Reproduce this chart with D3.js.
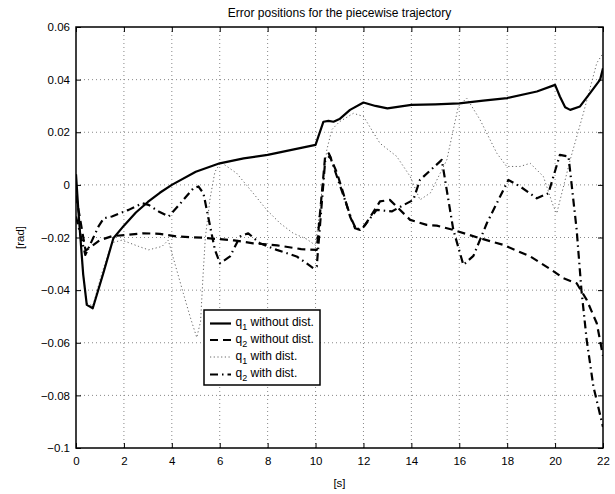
<!DOCTYPE html>
<html><head><meta charset="utf-8">
<script src="https://cdn.jsdelivr.net/npm/d3@7"></script>
<style>body{margin:0;background:#fff}svg{display:block;font-family:"Liberation Sans",Arial,sans-serif}</style>
</head><body>
<svg id="c" width="615" height="494"></svg>
<script>
const title = "Error positions for the piecewise trajectory";
const xTicks = [0,2,4,6,8,10,12,14,16,18,20,22];
const yTicks = [0.06,0.04,0.02,0,-0.02,-0.04,-0.06,-0.08,-0.1];
const yTickLabels = ["0.06","0.04","0.02","0","\u22120.02","\u22120.04","\u22120.06","\u22120.08","\u22120.1"];

const q1NoDistT = [0,0.1,0.3,0.45,0.7,1.14,1.56,2.0,2.5,3.0,3.5,4.0,5.0,6.0,7.0,8.0,9.0,10.0,10.12,10.33,10.54,10.75,11.0,11.44,12.0,12.5,13.0,14.0,15.0,16.0,17.0,18.0,19.24,20.0,20.2,20.42,20.63,21.04,21.46,21.88,22.0];
const q1NoDistV = [0.004,-0.01,-0.034,-0.0456,-0.0469,-0.0336,-0.0203,-0.0155,-0.0105,-0.0065,-0.003,0.0,0.005,0.0082,0.0101,0.0114,0.0133,0.0152,0.0184,0.024,0.0243,0.024,0.025,0.0285,0.0313,0.0300,0.0291,0.0304,0.0306,0.031,0.032,0.033,0.0355,0.038,0.0336,0.0295,0.0285,0.0298,0.0349,0.040,0.0443];

const q2NoDistT = [0,0.4,1.0,1.5,2.1,2.8,3.5,4.2,5.3,6.6,7.4,8.4,9.4,10.05,10.4,10.55,10.9,11.16,11.44,11.65,11.86,12.07,12.69,13.1,13.95,14.64,15.06,15.75,16.87,17.84,18.96,19.8,20.35,20.9,21.32,21.74,22.0];
const q2NoDistV = [-0.004,-0.025,-0.021,-0.0195,-0.019,-0.0184,-0.0186,-0.0196,-0.0201,-0.0211,-0.0222,-0.023,-0.0244,-0.0247,0.0108,0.012,0.0044,-0.0032,-0.012,-0.0165,-0.0171,-0.0152,-0.0063,-0.0057,-0.0133,-0.0152,-0.0155,-0.0171,-0.0203,-0.0228,-0.0272,-0.032,-0.0355,-0.0374,-0.0437,-0.0526,-0.065];

const q1DistT = [0,0.1,0.3,0.45,0.7,1.1,1.5,1.92,2.62,3.03,3.59,3.85,4.13,4.48,4.76,5.04,5.2,5.3,5.4,5.6,5.8,6.05,6.71,7.4,7.96,8.52,9.07,9.63,10.0,10.47,10.68,11.0,11.58,12.0,12.69,13.39,13.95,14.36,14.8,15.48,15.96,16.31,16.87,17.57,17.98,18.54,18.96,19.51,19.93,20.07,20.63,21.18,21.74,22.0];
const q1DistV = [0.004,-0.01,-0.034,-0.045,-0.046,-0.033,-0.022,-0.021,-0.0234,-0.0247,-0.0234,-0.021,-0.030,-0.0412,-0.05,-0.058,-0.052,-0.035,-0.02,-0.005,0.005,0.0086,0.0044,-0.0032,-0.0095,-0.0146,-0.0184,-0.0206,-0.023,0.0133,0.021,0.024,0.0272,0.026,0.0158,0.0108,0.0032,-0.0057,-0.003,0.0095,0.0298,0.033,0.0247,0.012,0.007,0.007,0.0082,0.0032,-0.0082,-0.0108,0.0095,0.0272,0.0463,0.05];

const q2DistT = [0,0.39,0.94,1.16,1.5,2.2,2.76,3.03,3.45,3.87,4.36,4.9,5.11,5.32,5.6,5.8,6.01,6.43,6.85,7.19,7.68,8.38,9.21,9.63,9.91,10.05,10.4,10.6,10.9,11.2,11.5,11.7,12.0,12.55,13.18,14.08,14.36,15.27,15.75,16.17,16.59,17.15,18.05,18.54,19.24,19.72,20.2,20.56,20.9,21.1,21.32,21.6,22.0];
const q2DistV = [-0.012,-0.0266,-0.0158,-0.0127,-0.012,-0.0095,-0.007,-0.0076,-0.0101,-0.012,-0.007,-0.0013,-0.0006,-0.0032,-0.0158,-0.0247,-0.0298,-0.0272,-0.0196,-0.0184,-0.0222,-0.0247,-0.0272,-0.0298,-0.0317,-0.031,0.009,0.011,0.003,-0.005,-0.013,-0.017,-0.016,-0.0095,-0.0101,-0.0057,0.0019,0.0095,-0.017,-0.0304,-0.027,-0.0146,0.0019,-0.0006,-0.0051,-0.0032,0.0114,0.0108,-0.017,-0.04,-0.059,-0.0767,-0.092];

const seriesNames = ["without dist.","without dist.","with dist.","with dist."];
const seriesSubs = ["1","2","1","2"];

const W=615,H=494;
const m={l:76,r:12,t:27,b:46};
const svg=d3.select("#c");
const x=d3.scaleLinear().domain([0,22]).range([m.l,W-m.r]);
const y=d3.scaleLinear().domain([-0.1,0.06]).range([H-m.b,m.t]);

const styles=[
  {stroke:"#000",w:2.2,dash:null},
  {stroke:"#000",w:2.2,dash:"8,5"},
  {stroke:"#666",w:1,dash:"1.2,2.5"},
  {stroke:"#000",w:2.2,dash:"8,4,1.5,4"}
];

// grid
const g=svg.append("g");
g.selectAll(".gx").data(xTicks.slice(1,-1)).enter().append("line")
 .attr("x1",d=>x(d)).attr("x2",d=>x(d)).attr("y1",y(0.06)).attr("y2",y(-0.1))
 .attr("stroke","#888").attr("stroke-width",1).attr("stroke-dasharray","1,3");
g.selectAll(".gy").data(yTicks.slice(1,-1)).enter().append("line")
 .attr("y1",d=>y(d)).attr("y2",d=>y(d)).attr("x1",x(0)).attr("x2",x(22))
 .attr("stroke","#888").attr("stroke-width",1).attr("stroke-dasharray","1,3");

svg.append("clipPath").attr("id","cp").append("rect")
 .attr("x",x(0)).attr("y",y(0.06)).attr("width",x(22)-x(0)).attr("height",y(-0.1)-y(0.06));

const line=d3.line().x(d=>x(d[0])).y(d=>y(d[1]));
const series=[[q1NoDistT,q1NoDistV],[q2NoDistT,q2NoDistV],[q1DistT,q1DistV],[q2DistT,q2DistV]];
const order=[2,0,1,3];
const pg=svg.append("g").attr("clip-path","url(#cp)");
order.forEach(i=>{
  const [T,V]=series[i];
  const pts=T.map((t,k)=>[t,V[k]]);
  const p=pg.append("path").datum(pts).attr("d",line).attr("fill","none")
   .attr("stroke",styles[i].stroke).attr("stroke-width",styles[i].w).attr("stroke-linejoin","round");
  if(styles[i].dash) p.attr("stroke-dasharray",styles[i].dash);
});

// axes box
svg.append("rect").attr("x",x(0)).attr("y",y(0.06)).attr("width",x(22)-x(0)).attr("height",y(-0.1)-y(0.06))
 .attr("fill","none").attr("stroke","#000").attr("stroke-width",1.5);

// axes with inward ticks
const xa=d3.axisBottom(x).tickValues(xTicks).tickSize(-5).tickPadding(9).tickFormat(d3.format("d"));
const xg=svg.append("g").attr("transform",`translate(0,${y(-0.1)})`).call(xa);
const xt=svg.append("g").attr("transform",`translate(0,${y(0.06)})`).call(d3.axisTop(x).tickValues(xTicks).tickSize(-5).tickFormat(""));
const ya=d3.axisLeft(y).tickValues(yTicks).tickSize(-5).tickPadding(6).tickFormat((d,i)=>yTickLabels[i]);
const yg=svg.append("g").attr("transform",`translate(${x(0)},0)`).call(ya);
const yr=svg.append("g").attr("transform",`translate(${x(22)},0)`).call(d3.axisRight(y).tickValues(yTicks).tickSize(-5).tickFormat(""));
[xg,xt,yg,yr].forEach(a=>{a.select(".domain").remove();a.selectAll("line").attr("stroke","#000");
  a.selectAll("text").attr("font-size","11.5px").attr("fill","#000").attr("font-family","Liberation Sans, Arial, sans-serif");});

// title & labels
svg.append("text").attr("x",(x(0)+x(22))/2).attr("y",17).attr("text-anchor","middle")
 .attr("font-size","12px").text(title);
svg.append("text").attr("x",x(11)).attr("y",487).attr("text-anchor","middle").attr("font-size","11.5px").text("[s]");
svg.append("text").attr("transform",`translate(24,${(y(0.06)+y(-0.1))/2}) rotate(-90)`).attr("text-anchor","middle")
 .attr("font-size","11.5px").text("[rad]");

// legend
const lg=svg.append("g");
lg.append("rect").attr("x",204).attr("y",310).attr("width",116).attr("height",75)
 .attr("fill","#fff").attr("stroke","#000").attr("stroke-width",1.5);
const rowY=[323.5,340,357,374.5];
seriesNames.forEach((nm,i)=>{
  const l=lg.append("line").attr("x1",210).attr("x2",231).attr("y1",rowY[i]).attr("y2",rowY[i])
   .attr("stroke",styles[i].stroke).attr("stroke-width",styles[i].w);
  if(styles[i].dash) l.attr("stroke-dasharray",styles[i].dash);
  const t=lg.append("text").attr("x",235.5).attr("y",rowY[i]+2.5).attr("font-size","12px");
  t.append("tspan").text("q");
  t.append("tspan").attr("dy",4).attr("font-size","9px").text(seriesSubs[i]);
  t.append("tspan").attr("dy",-4).text(" "+nm);
});
</script>
</body></html>
